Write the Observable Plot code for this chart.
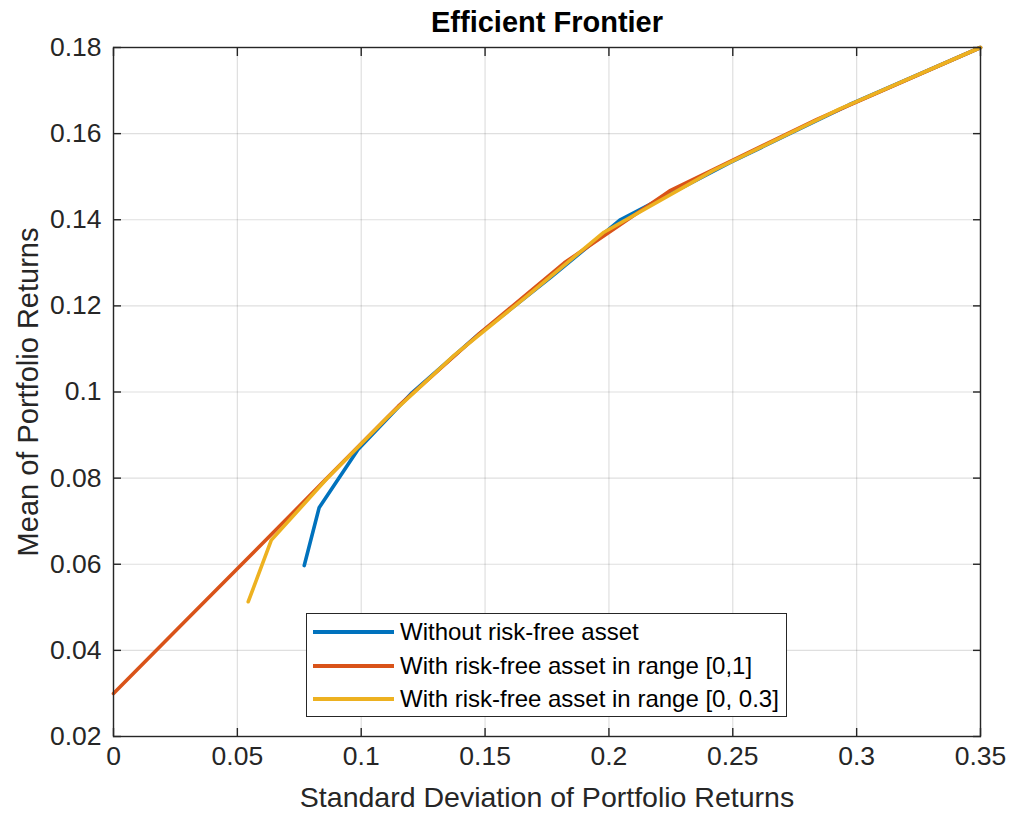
<!DOCTYPE html>
<html>
<head>
<meta charset="utf-8">
<script src="https://cdn.jsdelivr.net/npm/d3@7"></script>
<script src="https://cdn.jsdelivr.net/npm/@observablehq/plot@0.6"></script>
<style>
  body { margin: 0; background: #fff; }
  #wrap { position: relative; width: 1012px; height: 814px; font-family: "Liberation Sans", Arial, sans-serif; }
  #legend { position: absolute; left: 306px; top: 613px; width: 479px; height: 102px; border: 1.4px solid #262626; background: #fff; }
  .row { position: absolute; left: 0; height: 30px; }
  .swatch { position: absolute; left: 6px; width: 81px; height: 3.6px; }
  .lab { position: absolute; left: 93px; white-space: nowrap; font-size: 24px; color: #000; line-height: 30px; top: 0; }
</style>
</head>
<body>
<div id="wrap"><div id="legend"></div></div>
<script>
// ---- data ----
const title = "Efficient Frontier";
const xLabel = "Standard Deviation of Portfolio Returns";
const yLabel = "Mean of Portfolio Returns";
const xTicks = [0, 0.05, 0.1, 0.15, 0.2, 0.25, 0.3, 0.35];
const yTicks = [0.02, 0.04, 0.06, 0.08, 0.1, 0.12, 0.14, 0.16, 0.18];

const seriesNames = [
  "Without risk-free asset",
  "With risk-free asset in range [0,1]",
  "With risk-free asset in range [0, 0.3]"
];
const seriesColors = ["#0072BD", "#D95319", "#EDB120"];

const blueSigma = [0.077, 0.083, 0.0985, 0.1205, 0.147, 0.1765, 0.2044, 0.249, 0.297, 0.35];
const blueMean  = [0.0597, 0.0731, 0.0865, 0.0998, 0.1132, 0.1266, 0.1399, 0.1533, 0.1667, 0.18];

const redSigma = [0, 0.0288, 0.0575, 0.0862, 0.115, 0.1472, 0.182, 0.2245, 0.284, 0.35];
const redMean  = [0.03, 0.0467, 0.0633, 0.08, 0.0967, 0.1133, 0.13, 0.1467, 0.1633, 0.18];

const yellowSigma = [0.0544, 0.0637, 0.0862, 0.1107, 0.1375, 0.168, 0.198, 0.242, 0.293, 0.35];
const yellowMean  = [0.0513, 0.0656, 0.0799, 0.0942, 0.1085, 0.1228, 0.1371, 0.1514, 0.1657, 0.18];

const sigmas = [blueSigma, redSigma, yellowSigma];
const means = [blueMean, redMean, yellowMean];

const seriesRows = sigmas.map((s, i) => s.map((v, j) => ({sigma: v, mean: means[i][j], series: seriesNames[i]})));

const fmt = d => String(d);

const chart = Plot.plot({
  width: 1012,
  height: 814,
  marginLeft: 113,
  marginRight: 32,
  marginTop: 47,
  marginBottom: 78,
  style: {fontFamily: "'Liberation Sans', Arial, sans-serif", fontSize: "26px", color: "#262626", background: "transparent"},
  x: {domain: [0, 0.35], label: null},
  y: {domain: [0.02, 0.18], label: null},
  marks: [
    Plot.gridX(xTicks, {stroke: "#262626", strokeOpacity: 0.15, strokeWidth: 1.2}),
    Plot.gridY(yTicks, {stroke: "#262626", strokeOpacity: 0.15, strokeWidth: 1.2}),
    ...seriesRows.map((rows, i) => Plot.line(rows, {x: "sigma", y: "mean", stroke: seriesColors[i], strokeWidth: 3.6})),
    Plot.frame({stroke: "#262626", strokeWidth: 1.4}),
    Plot.axisX(xTicks, {anchor: "bottom", tickSize: -8, fill: "none", label: null, stroke: "#262626", strokeWidth: 1.4}),
    Plot.axisX(xTicks, {anchor: "top", tickSize: -8, fill: "none", label: null, stroke: "#262626", strokeWidth: 1.4}),
    Plot.axisY(yTicks, {anchor: "left", tickSize: -8, fill: "none", label: null, stroke: "#262626", strokeWidth: 1.4}),
    Plot.axisY(yTicks, {anchor: "right", tickSize: -8, fill: "none", label: null, stroke: "#262626", strokeWidth: 1.4}),
    Plot.axisX(xTicks, {anchor: "bottom", tickSize: 0, tickPadding: 10, tickFormat: fmt, label: null, fill: "#262626", fontSize: 26.5}),
    Plot.axisY(yTicks, {anchor: "left", tickSize: 0, tickPadding: 12, tickFormat: fmt, label: null, fill: "#262626", fontSize: 26.5}),
    Plot.text([title], {frameAnchor: "top", lineAnchor: "middle", textAnchor: "middle", dy: -25, fontWeight: "bold", fontSize: 29, fill: "#000"}),
    Plot.text([xLabel], {frameAnchor: "bottom", lineAnchor: "middle", textAnchor: "middle", dy: 61, fontSize: 28.5, fill: "#262626"}),
    Plot.text([yLabel], {frameAnchor: "left", lineAnchor: "middle", textAnchor: "middle", dx: -85, rotate: -90, fontSize: 29, fill: "#262626"})
  ]
});

const wrap = document.getElementById("wrap");
wrap.insertBefore(chart, wrap.firstChild);

const legend = document.getElementById("legend");
const rowCenters = [18, 52, 85];
seriesNames.forEach((name, i) => {
  const row = document.createElement("div");
  row.className = "row";
  row.style.top = (rowCenters[i] - 15) + "px";
  row.style.width = "100%";
  const sw = document.createElement("div");
  sw.className = "swatch";
  sw.style.background = seriesColors[i];
  sw.style.top = (15 - 1.8) + "px";
  const lab = document.createElement("div");
  lab.className = "lab";
  lab.textContent = name;
  row.appendChild(sw);
  row.appendChild(lab);
  legend.appendChild(row);
});
</script>
</body>
</html>
